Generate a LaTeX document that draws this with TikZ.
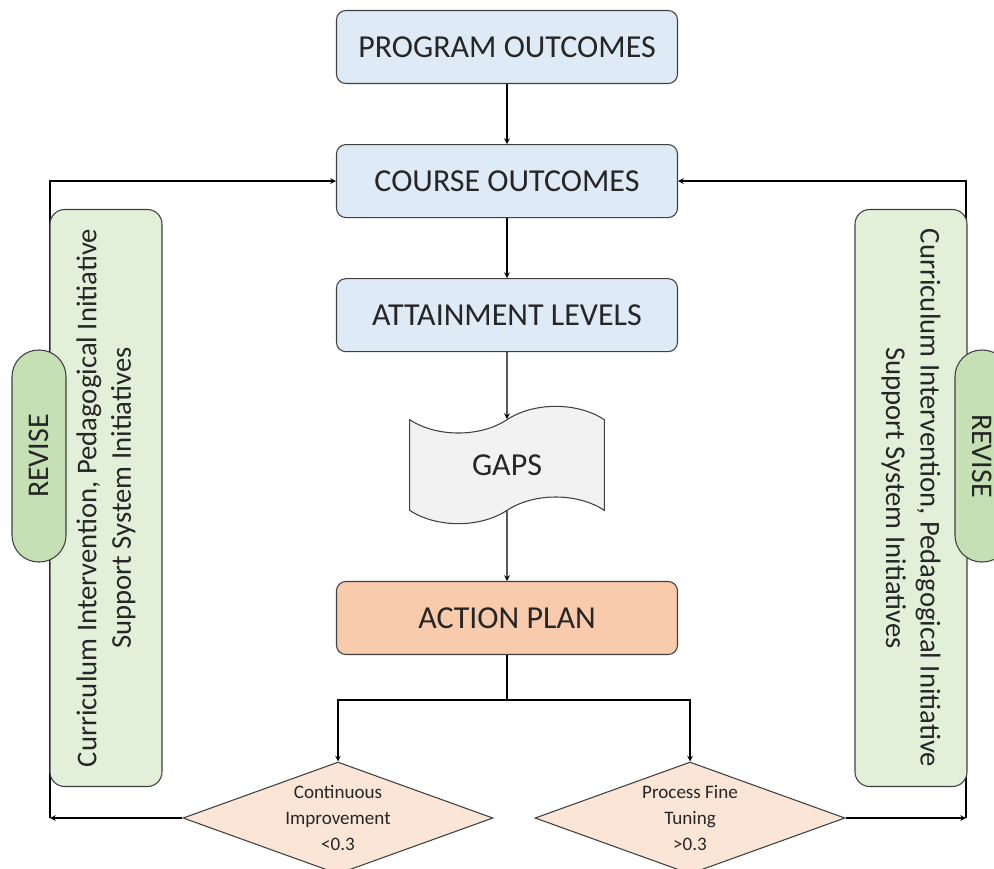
\documentclass[tikz,border=0pt]{standalone}
\usepackage{fontspec}
\setmainfont{Carlito}
\usetikzlibrary{arrows}
\usetikzlibrary{positioning}
\usetikzlibrary{shapes.geometric, shapes.symbols}
\definecolor{outblue}{HTML}{DEEBF7}
\definecolor{planorange}{HTML}{F8CBAD}
\definecolor{decpeach}{HTML}{FBE5D6}
\definecolor{sidegreen}{HTML}{E2F0D9}
\definecolor{revgreen}{HTML}{C5E0B4}
\definecolor{gapgray}{HTML}{F2F2F2}
\tikzset{
    outbox/.style={
           rectangle,
           rounded corners=7pt,
           draw=black!75, line width=0.8pt,
           fill=outblue,
           minimum width=255.75pt,
           minimum height=54.75pt,
           text=black!85,
           font=\fontsize{24}{28}\selectfont,
           },
    gapsbox/.style={
           tape,
           draw=black!75, line width=0.8pt,
           fill=gapgray,
           minimum width=146pt,
           minimum height=88pt,
           tape bend top=in and out,
           tape bend bottom=in and out,
           tape bend height=20pt,
           text=black!85,
           font=\fontsize{24}{28}\selectfont,
           },
    decision/.style={
           diamond,
           draw=black!75, line width=0.8pt,
           fill=decpeach,
           inner sep=0pt,
           shape aspect=2.8,
           minimum width=232.5pt,
           minimum height=84pt,
           align=center,
           text=black!85,
           font=\fontsize{14.3}{19.5}\selectfont,
           },
    sidebox/.style={
           rectangle,
           rounded corners=11pt,
           draw=black!75, line width=0.8pt,
           fill=sidegreen,
           minimum width=432.75pt,
           minimum height=84pt,
           align=center,
           text=black!85,
           font=\fontsize{21.5}{26}\selectfont,
           },
    revise/.style={
           rectangle,
           rounded corners=20pt,
           draw=black!75, line width=0.8pt,
           fill=revgreen,
           minimum width=159pt,
           minimum height=40.5pt,
           text=black!85,
           font=\fontsize{22.5}{26}\selectfont,
           },
}
\begin{document}
\begin{tikzpicture}[x=0.75pt, y=-0.75pt, >=stealth, node distance=45pt, line width=0.9pt]
      \clip (0,0) rectangle (994,868);
      \node[outbox] (po) at (507,47)   {PROGRAM OUTCOMES};
      \node[outbox] (co) [below=of po] {COURSE OUTCOMES};
      \node[outbox] (al) [below=of co] {ATTAINMENT LEVELS};
      \node[gapsbox] (gaps) at (507,465) {GAPS};
      \node[outbox,fill=planorange] (ap) at (507,618) {ACTION PLAN};
      \node[decision] (ci)  at (338,818) {Continuous\\Improvement\\<0.3};
      \node[decision] (pft) at (690,818) {Process Fine\\Tuning\\>0.3};
      \coordinate (split) at (507,700);
      \coordinate (lft) at (50,818);
      \coordinate (rgt) at (966,818);
      \path[->]
      (po) edge (co)
      (co) edge (al)
      (al) edge (gaps)
      (gaps) edge (ap);
      \draw (ap) -- (split);
      \draw[->] (split) -| (ci);
      \draw[->] (split) -| (pft);
      \draw[->] (ci) -- (lft);
      \draw[->] (pft) -- (rgt);
      \draw[->] (lft) |- (co);
      \draw[->] (rgt) |- (co);
      % feedback side panels
      \node[sidebox,rotate=90]  (lside) at (106,498) {Curriculum Intervention, Pedagogical Initiative\\Support System Initiatives};
      \node[sidebox,rotate=-90] (rside) at (911,498) {Curriculum Intervention, Pedagogical Initiative\\Support System Initiatives};
      \node[revise,rotate=90]  (lrev) at (39,456)  {REVISE};
      \node[revise,rotate=-90] (rrev) at (982,456) {REVISE};
\end{tikzpicture}
\end{document}
